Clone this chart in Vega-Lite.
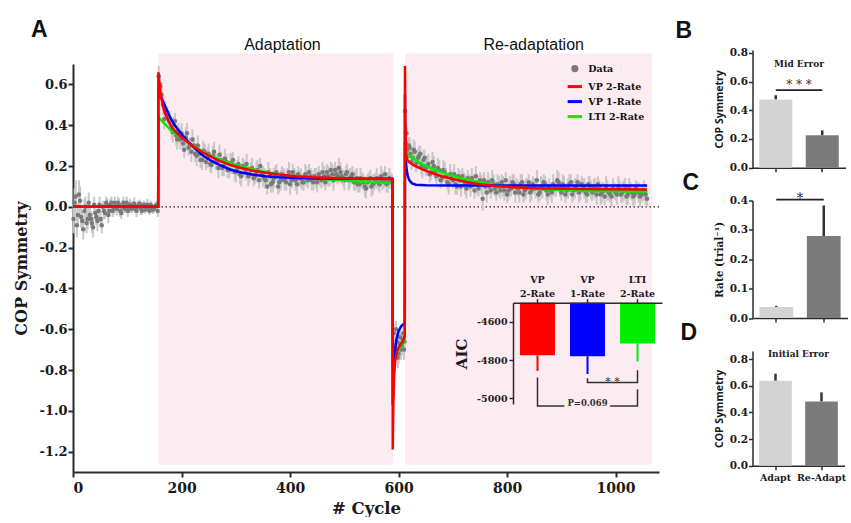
{
  "$schema": "https://vega.github.io/schema/vega-lite/v6.json",
  "background": "white",
  "padding": {"left": 13, "top": 19, "right": 0, "bottom": 0},
  "config": {
    "view": {"stroke": null},
    "locale": {"number": {"decimal": ".", "thousands": ",", "grouping": [3], "currency": ["$", ""], "minus": "-"}},
    "axis": {"grid": false, "labelOverlap": false, "domainColor": "#2b2b2b", "tickColor": "#2b2b2b", "labelColor": "#1a1a1a", "titleColor": "#1a1a1a", "labelFont": "DejaVu Serif", "labelFontWeight": "bold", "titleFont": "DejaVu Serif", "titleFontWeight": "bold"},
    "legend": {"title": null, "orient": "none", "legendX": 492.8, "legendY": -4.4, "labelFont": "DejaVu Serif", "labelFontWeight": "bold", "labelFontSize": 9.5, "labelColor": "#111111", "symbolType": "stroke", "symbolSize": 120, "symbolStrokeWidth": 3, "rowPadding": 0, "labelOffset": 4.5},
    "title": {"font": "Liberation Sans", "fontWeight": "bold", "fontSize": 23, "color": "#111111", "anchor": "start", "frame": "group", "baseline": "alphabetic"}
  },
  "datasets": {
    "pts": [
      {"c":1,"v":-0.06,"e":0.07},{"c":5,"v":0.05,"e":0.08},{"c":9,"v":-0.04,"e":0.06},{"c":13,"v":0.03,"e":0.07},{"c":17,"v":-0.07,"e":0.05},
      {"c":21,"v":-0.02,"e":0.06},{"c":25,"v":-0.08,"e":0.05},{"c":29,"v":0.02,"e":0.05},{"c":33,"v":-0.06,"e":0.04},{"c":37,"v":-0.1,"e":0.05},
      {"c":41,"v":-0.03,"e":0.04},{"c":45,"v":-0.07,"e":0.05},{"c":49,"v":0.01,"e":0.04},{"c":53,"v":-0.09,"e":0.04},{"c":57,"v":-0.02,"e":0.04},
      {"c":61,"v":0.02,"e":0.03},{"c":65,"v":-0.04,"e":0.04},{"c":69,"v":0.01,"e":0.03},{"c":73,"v":-0.02,"e":0.03},{"c":77,"v":0.02,"e":0.03},
      {"c":81,"v":-0.01,"e":0.03},{"c":85,"v":0.01,"e":0.03},{"c":89,"v":-0.03,"e":0.03},{"c":93,"v":0.02,"e":0.03},{"c":97,"v":0.0,"e":0.03},
      {"c":101,"v":-0.02,"e":0.03},{"c":105,"v":0.01,"e":0.03},{"c":109,"v":-0.01,"e":0.02},{"c":113,"v":0.015,"e":0.03},{"c":117,"v":-0.02,"e":0.03},
      {"c":121,"v":0.01,"e":0.02},{"c":125,"v":-0.01,"e":0.03},{"c":129,"v":0.005,"e":0.02},{"c":133,"v":-0.015,"e":0.02},{"c":137,"v":0.01,"e":0.03},
      {"c":141,"v":-0.02,"e":0.02},{"c":145,"v":0.0,"e":0.02},{"c":149,"v":-0.01,"e":0.02},{"c":153,"v":0.005,"e":0.02},{"c":156,"v":-0.02,"e":0.03},
      {"c":3,"v":0.02,"e":0.07},{"c":7,"v":-0.09,"e":0.06},{"c":11,"v":0.06,"e":0.07},{"c":15,"v":-0.05,"e":0.05},{"c":19,"v":-0.11,"e":0.05},
      {"c":23,"v":0.0,"e":0.05},{"c":27,"v":-0.06,"e":0.05},{"c":31,"v":-0.04,"e":0.04},{"c":35,"v":-0.08,"e":0.05},{"c":39,"v":0.01,"e":0.04},
      {"c":43,"v":-0.05,"e":0.04},{"c":47,"v":-0.02,"e":0.04},{"c":51,"v":-0.06,"e":0.04},{"c":55,"v":0.0,"e":0.03},{"c":59,"v":-0.03,"e":0.03},
      {"c":63,"v":0.01,"e":0.03},{"c":67,"v":-0.02,"e":0.03},{"c":71,"v":0.02,"e":0.03},{"c":75,"v":-0.01,"e":0.03},{"c":79,"v":0.0,"e":0.03},
      {"c":83,"v":0.02,"e":0.03},{"c":87,"v":-0.02,"e":0.03},{"c":91,"v":0.0,"e":0.03},{"c":95,"v":-0.01,"e":0.02},{"c":99,"v":0.02,"e":0.03},
      {"c":103,"v":-0.01,"e":0.02},{"c":107,"v":0.0,"e":0.03},{"c":111,"v":0.01,"e":0.02},{"c":115,"v":-0.01,"e":0.02},{"c":119,"v":0.0,"e":0.03},
      {"c":123,"v":0.015,"e":0.02},{"c":127,"v":-0.02,"e":0.02},{"c":131,"v":0.01,"e":0.02},{"c":135,"v":0.0,"e":0.02},{"c":139,"v":-0.01,"e":0.02},
      {"c":143,"v":0.01,"e":0.02},{"c":147,"v":-0.015,"e":0.02},{"c":151,"v":0.0,"e":0.02},{"c":155,"v":0.01,"e":0.02},
      {"c":158,"v":0.64,"e":0.05},{"c":160,"v":0.6,"e":0.05},{"c":163,"v":0.55,"e":0.06},{"c":166,"v":0.5,"e":0.05},{"c":170,"v":0.47,"e":0.05},
      {"c":174,"v":0.45,"e":0.04},{"c":178,"v":0.42,"e":0.05},{"c":182,"v":0.38,"e":0.05},{"c":186,"v":0.4,"e":0.04},{"c":190,"v":0.35,"e":0.05},
      {"c":194,"v":0.37,"e":0.04},{"c":198,"v":0.33,"e":0.05},{"c":203,"v":0.31,"e":0.04},{"c":208,"v":0.34,"e":0.05},{"c":213,"v":0.29,"e":0.04},
      {"c":218,"v":0.27,"e":0.05},{"c":223,"v":0.3,"e":0.04},{"c":228,"v":0.25,"e":0.05},{"c":233,"v":0.26,"e":0.04},{"c":238,"v":0.23,"e":0.05},
      {"c":243,"v":0.27,"e":0.04},{"c":248,"v":0.24,"e":0.05},{"c":253,"v":0.21,"e":0.04},{"c":258,"v":0.25,"e":0.05},{"c":263,"v":0.22,"e":0.04},
      {"c":268,"v":0.19,"e":0.05},{"c":273,"v":0.23,"e":0.04},{"c":278,"v":0.2,"e":0.05},{"c":283,"v":0.22,"e":0.04},{"c":288,"v":0.18,"e":0.04},
      {"c":293,"v":0.21,"e":0.05},{"c":298,"v":0.17,"e":0.04},{"c":303,"v":0.19,"e":0.04},{"c":308,"v":0.16,"e":0.05},{"c":313,"v":0.2,"e":0.04},
      {"c":318,"v":0.17,"e":0.04},{"c":323,"v":0.15,"e":0.05},{"c":328,"v":0.18,"e":0.04},{"c":333,"v":0.14,"e":0.04},{"c":338,"v":0.17,"e":0.05},
      {"c":343,"v":0.13,"e":0.04},{"c":348,"v":0.16,"e":0.04},{"c":353,"v":0.14,"e":0.05},{"c":358,"v":0.1,"e":0.04},{"c":363,"v":0.15,"e":0.04},
      {"c":368,"v":0.12,"e":0.05},{"c":373,"v":0.16,"e":0.04},{"c":378,"v":0.1,"e":0.04},{"c":383,"v":0.13,"e":0.05},{"c":388,"v":0.15,"e":0.04},
      {"c":393,"v":0.12,"e":0.04},{"c":398,"v":0.17,"e":0.05},{"c":403,"v":0.13,"e":0.04},{"c":408,"v":0.15,"e":0.04},{"c":413,"v":0.11,"e":0.05},
      {"c":418,"v":0.14,"e":0.04},{"c":423,"v":0.12,"e":0.04},{"c":428,"v":0.16,"e":0.05},{"c":433,"v":0.13,"e":0.04},{"c":438,"v":0.15,"e":0.04},
      {"c":443,"v":0.12,"e":0.04},{"c":448,"v":0.14,"e":0.05},{"c":453,"v":0.16,"e":0.04},{"c":458,"v":0.13,"e":0.04},{"c":463,"v":0.15,"e":0.05},
      {"c":468,"v":0.17,"e":0.04},{"c":473,"v":0.14,"e":0.04},{"c":478,"v":0.16,"e":0.05},{"c":483,"v":0.18,"e":0.04},{"c":488,"v":0.15,"e":0.04},
      {"c":493,"v":0.17,"e":0.05},{"c":498,"v":0.14,"e":0.04},{"c":503,"v":0.16,"e":0.04},{"c":508,"v":0.13,"e":0.05},{"c":513,"v":0.15,"e":0.04},
      {"c":518,"v":0.12,"e":0.04},{"c":523,"v":0.14,"e":0.05},{"c":528,"v":0.11,"e":0.04},{"c":533,"v":0.13,"e":0.04},{"c":538,"v":0.1,"e":0.05},
      {"c":543,"v":0.12,"e":0.04},{"c":548,"v":0.14,"e":0.04},{"c":553,"v":0.11,"e":0.05},{"c":558,"v":0.13,"e":0.04},{"c":563,"v":0.12,"e":0.04},
      {"c":568,"v":0.15,"e":0.05},{"c":573,"v":0.13,"e":0.04},{"c":578,"v":0.11,"e":0.04},{"c":583,"v":0.14,"e":0.05},{"c":588,"v":0.12,"e":0.04},
      {"c":161,"v":0.59,"e":0.05},{"c":168,"v":0.43,"e":0.05},{"c":176,"v":0.43,"e":0.04},{"c":184,"v":0.365,"e":0.05},{"c":188,"v":0.42,"e":0.04},
      {"c":192,"v":0.33,"e":0.05},{"c":196,"v":0.35,"e":0.04},{"c":200,"v":0.36,"e":0.05},{"c":205,"v":0.28,"e":0.04},{"c":210,"v":0.36,"e":0.05},
      {"c":215,"v":0.3,"e":0.04},{"c":220,"v":0.33,"e":0.05},{"c":225,"v":0.26,"e":0.04},{"c":230,"v":0.3,"e":0.05},{"c":235,"v":0.23,"e":0.04},
      {"c":240,"v":0.275,"e":0.05},{"c":245,"v":0.22,"e":0.04},{"c":250,"v":0.26,"e":0.05},{"c":255,"v":0.205,"e":0.04},{"c":260,"v":0.27,"e":0.05},
      {"c":265,"v":0.22,"e":0.04},{"c":270,"v":0.255,"e":0.05},{"c":275,"v":0.19,"e":0.04},{"c":280,"v":0.235,"e":0.05},{"c":285,"v":0.18,"e":0.04},
      {"c":290,"v":0.215,"e":0.05},{"c":295,"v":0.23,"e":0.04},{"c":300,"v":0.17,"e":0.05},{"c":305,"v":0.21,"e":0.04},{"c":310,"v":0.15,"e":0.05},
      {"c":315,"v":0.19,"e":0.04},{"c":320,"v":0.21,"e":0.05},{"c":325,"v":0.16,"e":0.04},{"c":330,"v":0.19,"e":0.05},{"c":335,"v":0.15,"e":0.04},
      {"c":340,"v":0.18,"e":0.05},{"c":345,"v":0.2,"e":0.04},{"c":350,"v":0.15,"e":0.05},{"c":355,"v":0.13,"e":0.04},{"c":360,"v":0.17,"e":0.05},
      {"c":365,"v":0.11,"e":0.04},{"c":370,"v":0.14,"e":0.05},{"c":375,"v":0.17,"e":0.04},{"c":380,"v":0.12,"e":0.05},{"c":385,"v":0.16,"e":0.04},
      {"c":390,"v":0.13,"e":0.05},{"c":395,"v":0.15,"e":0.04},{"c":400,"v":0.11,"e":0.05},{"c":405,"v":0.17,"e":0.04},{"c":410,"v":0.13,"e":0.05},
      {"c":415,"v":0.16,"e":0.04},{"c":420,"v":0.14,"e":0.05},{"c":425,"v":0.12,"e":0.04},{"c":430,"v":0.15,"e":0.05},{"c":435,"v":0.17,"e":0.04},
      {"c":440,"v":0.13,"e":0.05},{"c":445,"v":0.15,"e":0.04},{"c":450,"v":0.12,"e":0.05},{"c":455,"v":0.14,"e":0.04},{"c":460,"v":0.17,"e":0.05},
      {"c":465,"v":0.12,"e":0.04},{"c":470,"v":0.15,"e":0.05},{"c":475,"v":0.18,"e":0.04},{"c":480,"v":0.13,"e":0.05},{"c":485,"v":0.16,"e":0.04},
      {"c":490,"v":0.19,"e":0.05},{"c":495,"v":0.15,"e":0.04},{"c":500,"v":0.13,"e":0.05},{"c":505,"v":0.17,"e":0.04},{"c":510,"v":0.14,"e":0.05},
      {"c":515,"v":0.16,"e":0.04},{"c":520,"v":0.13,"e":0.05},{"c":525,"v":0.11,"e":0.04},{"c":530,"v":0.14,"e":0.05},{"c":535,"v":0.12,"e":0.04},
      {"c":540,"v":0.09,"e":0.05},{"c":545,"v":0.13,"e":0.04},{"c":550,"v":0.1,"e":0.05},{"c":555,"v":0.12,"e":0.04},{"c":560,"v":0.14,"e":0.05},
      {"c":565,"v":0.11,"e":0.04},{"c":570,"v":0.13,"e":0.05},{"c":575,"v":0.16,"e":0.04},{"c":580,"v":0.12,"e":0.05},{"c":585,"v":0.13,"e":0.04},
      {"c":591,"v":-0.62,"e":0.05},{"c":594,"v":-0.7,"e":0.05},{"c":597,"v":-0.66,"e":0.04},{"c":600,"v":-0.72,"e":0.05},{"c":603,"v":-0.64,"e":0.04},
      {"c":606,"v":-0.68,"e":0.05},{"c":609,"v":-0.62,"e":0.04},{"c":611,"v":-0.66,"e":0.05},
      {"c":592.5,"v":-0.68,"e":0.05},{"c":595.5,"v":-0.6,"e":0.04},{"c":598.5,"v":-0.74,"e":0.05},{"c":601.5,"v":-0.67,"e":0.04},{"c":604.5,"v":-0.7,"e":0.05},
      {"c":607.5,"v":-0.65,"e":0.04},{"c":610,"v":-0.7,"e":0.05},
      {"c":612,"v":0.47,"e":0.06},{"c":613,"v":0.31,"e":0.05},{"c":616,"v":0.28,"e":0.05},{"c":619,"v":0.3,"e":0.04},{"c":622,"v":0.26,"e":0.05},
      {"c":626,"v":0.24,"e":0.04},{"c":630,"v":0.27,"e":0.05},{"c":634,"v":0.22,"e":0.04},{"c":638,"v":0.25,"e":0.05},{"c":642,"v":0.2,"e":0.04},
      {"c":646,"v":0.23,"e":0.05},{"c":650,"v":0.19,"e":0.04},{"c":655,"v":0.21,"e":0.05},{"c":660,"v":0.17,"e":0.04},{"c":665,"v":0.2,"e":0.05},
      {"c":670,"v":0.15,"e":0.04},{"c":675,"v":0.18,"e":0.05},{"c":680,"v":0.14,"e":0.04},{"c":685,"v":0.17,"e":0.05},{"c":690,"v":0.12,"e":0.04},
      {"c":695,"v":0.16,"e":0.05},{"c":700,"v":0.13,"e":0.04},{"c":705,"v":0.11,"e":0.05},{"c":710,"v":0.15,"e":0.04},{"c":715,"v":0.1,"e":0.05},
      {"c":720,"v":0.13,"e":0.04},{"c":725,"v":0.09,"e":0.05},{"c":730,"v":0.12,"e":0.04},{"c":735,"v":0.14,"e":0.05},{"c":740,"v":0.08,"e":0.04},
      {"c":745,"v":0.11,"e":0.05},{"c":750,"v":0.13,"e":0.04},{"c":755,"v":0.04,"e":0.06},{"c":760,"v":0.1,"e":0.04},{"c":765,"v":0.12,"e":0.05},
      {"c":770,"v":0.08,"e":0.04},{"c":775,"v":0.11,"e":0.05},{"c":780,"v":0.07,"e":0.04},{"c":785,"v":0.1,"e":0.05},{"c":790,"v":0.12,"e":0.04},
      {"c":795,"v":0.08,"e":0.05},{"c":800,"v":0.06,"e":0.04},{"c":805,"v":0.1,"e":0.05},{"c":810,"v":0.12,"e":0.04},{"c":815,"v":0.07,"e":0.05},
      {"c":820,"v":0.09,"e":0.04},{"c":825,"v":0.11,"e":0.05},{"c":830,"v":0.06,"e":0.04},{"c":835,"v":0.09,"e":0.05},{"c":840,"v":0.12,"e":0.04},
      {"c":845,"v":0.08,"e":0.05},{"c":850,"v":0.1,"e":0.04},{"c":855,"v":0.13,"e":0.05},{"c":860,"v":0.07,"e":0.04},{"c":865,"v":0.09,"e":0.05},
      {"c":870,"v":0.11,"e":0.04},{"c":875,"v":0.06,"e":0.05},{"c":880,"v":0.08,"e":0.04},{"c":885,"v":0.11,"e":0.05},{"c":890,"v":0.09,"e":0.04},
      {"c":895,"v":0.12,"e":0.05},{"c":900,"v":0.07,"e":0.04},{"c":905,"v":0.1,"e":0.05},{"c":910,"v":0.08,"e":0.04},{"c":915,"v":0.11,"e":0.05},
      {"c":920,"v":0.06,"e":0.04},{"c":925,"v":0.09,"e":0.05},{"c":930,"v":0.12,"e":0.04},{"c":935,"v":0.08,"e":0.05},{"c":940,"v":0.1,"e":0.04},
      {"c":945,"v":0.07,"e":0.05},{"c":950,"v":0.11,"e":0.04},{"c":955,"v":0.08,"e":0.05},{"c":960,"v":0.1,"e":0.04},{"c":965,"v":0.06,"e":0.05},
      {"c":970,"v":0.09,"e":0.04},{"c":975,"v":0.07,"e":0.05},{"c":980,"v":0.05,"e":0.04},{"c":985,"v":0.08,"e":0.05},{"c":990,"v":0.06,"e":0.04},
      {"c":995,"v":0.09,"e":0.05},{"c":1000,"v":0.07,"e":0.04},{"c":1005,"v":0.1,"e":0.05},{"c":1010,"v":0.06,"e":0.04},{"c":1015,"v":0.08,"e":0.05},
      {"c":1020,"v":0.05,"e":0.04},{"c":1025,"v":0.09,"e":0.05},{"c":1030,"v":0.07,"e":0.04},{"c":1035,"v":0.06,"e":0.05},{"c":1040,"v":0.08,"e":0.04},
      {"c":1045,"v":0.05,"e":0.05},{"c":1050,"v":0.07,"e":0.04},{"c":1055,"v":0.06,"e":0.05},{"c":1058,"v":0.04,"e":0.04},
      {"c":614.5,"v":0.36,"e":0.05},{"c":617.5,"v":0.25,"e":0.04},{"c":620.5,"v":0.29,"e":0.05},{"c":624,"v":0.22,"e":0.04},{"c":628,"v":0.28,"e":0.05},
      {"c":632,"v":0.21,"e":0.04},{"c":636,"v":0.24,"e":0.05},{"c":640,"v":0.26,"e":0.04},{"c":644,"v":0.19,"e":0.05},{"c":648,"v":0.24,"e":0.04},
      {"c":652.5,"v":0.2,"e":0.05},{"c":657.5,"v":0.16,"e":0.04},{"c":662.5,"v":0.22,"e":0.05},{"c":667.5,"v":0.17,"e":0.04},{"c":672.5,"v":0.19,"e":0.05},
      {"c":677.5,"v":0.13,"e":0.04},{"c":682.5,"v":0.18,"e":0.05},{"c":687.5,"v":0.15,"e":0.04},{"c":692.5,"v":0.11,"e":0.05},{"c":697.5,"v":0.14,"e":0.04},
      {"c":702.5,"v":0.16,"e":0.05},{"c":707.5,"v":0.1,"e":0.04},{"c":712.5,"v":0.13,"e":0.05},{"c":717.5,"v":0.15,"e":0.04},{"c":722.5,"v":0.11,"e":0.05},
      {"c":727.5,"v":0.14,"e":0.04},{"c":732.5,"v":0.1,"e":0.05},{"c":737.5,"v":0.12,"e":0.04},{"c":742.5,"v":0.15,"e":0.05},{"c":747.5,"v":0.09,"e":0.04},
      {"c":752.5,"v":0.11,"e":0.05},{"c":757.5,"v":0.13,"e":0.04},{"c":762.5,"v":0.07,"e":0.05},{"c":767.5,"v":0.1,"e":0.04},{"c":772.5,"v":0.13,"e":0.05},
      {"c":777.5,"v":0.09,"e":0.04},{"c":782.5,"v":0.11,"e":0.05},{"c":787.5,"v":0.08,"e":0.04},{"c":792.5,"v":0.1,"e":0.05},{"c":797.5,"v":0.13,"e":0.04},
      {"c":802.5,"v":0.08,"e":0.05},{"c":807.5,"v":0.09,"e":0.04},{"c":812.5,"v":0.11,"e":0.05},{"c":817.5,"v":0.1,"e":0.04},{"c":822.5,"v":0.07,"e":0.05},
      {"c":827.5,"v":0.12,"e":0.04},{"c":832.5,"v":0.08,"e":0.05},{"c":837.5,"v":0.1,"e":0.04},{"c":842.5,"v":0.07,"e":0.05},{"c":847.5,"v":0.11,"e":0.04},
      {"c":852.5,"v":0.09,"e":0.05},{"c":857.5,"v":0.06,"e":0.04},{"c":862.5,"v":0.1,"e":0.05},{"c":867.5,"v":0.12,"e":0.04},{"c":872.5,"v":0.08,"e":0.05},
      {"c":877.5,"v":0.1,"e":0.04},{"c":882.5,"v":0.07,"e":0.05},{"c":887.5,"v":0.09,"e":0.04},{"c":892.5,"v":0.13,"e":0.05},{"c":897.5,"v":0.09,"e":0.04},
      {"c":902.5,"v":0.11,"e":0.05},{"c":907.5,"v":0.06,"e":0.04},{"c":912.5,"v":0.09,"e":0.05},{"c":917.5,"v":0.12,"e":0.04},{"c":922.5,"v":0.08,"e":0.05},
      {"c":927.5,"v":0.1,"e":0.04},{"c":932.5,"v":0.07,"e":0.05},{"c":937.5,"v":0.11,"e":0.04},{"c":942.5,"v":0.09,"e":0.05},{"c":947.5,"v":0.06,"e":0.04},
      {"c":952.5,"v":0.1,"e":0.05},{"c":957.5,"v":0.07,"e":0.04},{"c":962.5,"v":0.09,"e":0.05},{"c":967.5,"v":0.11,"e":0.04},{"c":972.5,"v":0.06,"e":0.05},
      {"c":977.5,"v":0.08,"e":0.04},{"c":982.5,"v":0.1,"e":0.05},{"c":987.5,"v":0.07,"e":0.04},{"c":992.5,"v":0.05,"e":0.05},{"c":997.5,"v":0.08,"e":0.04},
      {"c":1002.5,"v":0.06,"e":0.05},{"c":1007.5,"v":0.09,"e":0.04},{"c":1012.5,"v":0.07,"e":0.05},{"c":1017.5,"v":0.1,"e":0.04},{"c":1022.5,"v":0.06,"e":0.05},
      {"c":1027.5,"v":0.08,"e":0.04},{"c":1032.5,"v":0.05,"e":0.05},{"c":1037.5,"v":0.09,"e":0.04},{"c":1042.5,"v":0.07,"e":0.05},{"c":1047.5,"v":0.06,"e":0.04},
      {"c":1052.5,"v":0.08,"e":0.05}
    ],
    "fits": [
      {"m":"LTI 2-Rate","c":0,"v":0},{"m":"LTI 2-Rate","c":157,"v":0},{"m":"LTI 2-Rate","c":157.3,"v":0.44},{"m":"LTI 2-Rate","c":162,"v":0.425},
      {"m":"LTI 2-Rate","c":168,"v":0.41},{"m":"LTI 2-Rate","c":175,"v":0.39},{"m":"LTI 2-Rate","c":183,"v":0.37},{"m":"LTI 2-Rate","c":192,"v":0.35},
      {"m":"LTI 2-Rate","c":202,"v":0.335},{"m":"LTI 2-Rate","c":215,"v":0.31},{"m":"LTI 2-Rate","c":230,"v":0.285},{"m":"LTI 2-Rate","c":245,"v":0.262},
      {"m":"LTI 2-Rate","c":260,"v":0.243},{"m":"LTI 2-Rate","c":280,"v":0.222},{"m":"LTI 2-Rate","c":300,"v":0.205},{"m":"LTI 2-Rate","c":325,"v":0.188},
      {"m":"LTI 2-Rate","c":350,"v":0.173},{"m":"LTI 2-Rate","c":380,"v":0.16},{"m":"LTI 2-Rate","c":410,"v":0.15},{"m":"LTI 2-Rate","c":450,"v":0.139},
      {"m":"LTI 2-Rate","c":500,"v":0.129},{"m":"LTI 2-Rate","c":550,"v":0.121},{"m":"LTI 2-Rate","c":589,"v":0.116},{"m":"LTI 2-Rate","c":589.3,"v":-0.79},
      {"m":"LTI 2-Rate","c":592,"v":-0.75},{"m":"LTI 2-Rate","c":596,"v":-0.72},{"m":"LTI 2-Rate","c":600,"v":-0.7},{"m":"LTI 2-Rate","c":605,"v":-0.68},
      {"m":"LTI 2-Rate","c":611.5,"v":-0.655},{"m":"LTI 2-Rate","c":611.8,"v":0.275},{"m":"LTI 2-Rate","c":618,"v":0.255},{"m":"LTI 2-Rate","c":628,"v":0.235},
      {"m":"LTI 2-Rate","c":640,"v":0.215},{"m":"LTI 2-Rate","c":655,"v":0.195},{"m":"LTI 2-Rate","c":670,"v":0.178},{"m":"LTI 2-Rate","c":690,"v":0.16},
      {"m":"LTI 2-Rate","c":710,"v":0.144},{"m":"LTI 2-Rate","c":735,"v":0.128},{"m":"LTI 2-Rate","c":760,"v":0.115},{"m":"LTI 2-Rate","c":790,"v":0.104},
      {"m":"LTI 2-Rate","c":820,"v":0.095},{"m":"LTI 2-Rate","c":860,"v":0.087},{"m":"LTI 2-Rate","c":900,"v":0.082},{"m":"LTI 2-Rate","c":950,"v":0.078},
      {"m":"LTI 2-Rate","c":1000,"v":0.076},{"m":"LTI 2-Rate","c":1058,"v":0.074},
      {"m":"VP 1-Rate","c":0,"v":0},{"m":"VP 1-Rate","c":157,"v":0},{"m":"VP 1-Rate","c":157.3,"v":0.56},{"m":"VP 1-Rate","c":162,"v":0.54},
      {"m":"VP 1-Rate","c":167,"v":0.51},{"m":"VP 1-Rate","c":172,"v":0.48},{"m":"VP 1-Rate","c":178,"v":0.445},{"m":"VP 1-Rate","c":185,"v":0.41},
      {"m":"VP 1-Rate","c":193,"v":0.38},{"m":"VP 1-Rate","c":202,"v":0.35},{"m":"VP 1-Rate","c":212,"v":0.32},{"m":"VP 1-Rate","c":225,"v":0.285},
      {"m":"VP 1-Rate","c":240,"v":0.25},{"m":"VP 1-Rate","c":255,"v":0.225},{"m":"VP 1-Rate","c":270,"v":0.205},{"m":"VP 1-Rate","c":290,"v":0.183},
      {"m":"VP 1-Rate","c":310,"v":0.168},{"m":"VP 1-Rate","c":330,"v":0.158},{"m":"VP 1-Rate","c":355,"v":0.15},{"m":"VP 1-Rate","c":380,"v":0.145},
      {"m":"VP 1-Rate","c":410,"v":0.141},{"m":"VP 1-Rate","c":450,"v":0.139},{"m":"VP 1-Rate","c":500,"v":0.138},{"m":"VP 1-Rate","c":589,"v":0.138},
      {"m":"VP 1-Rate","c":589.3,"v":-0.97},{"m":"VP 1-Rate","c":591,"v":-0.82},{"m":"VP 1-Rate","c":593,"v":-0.72},{"m":"VP 1-Rate","c":596,"v":-0.65},
      {"m":"VP 1-Rate","c":600,"v":-0.61},{"m":"VP 1-Rate","c":605,"v":-0.585},{"m":"VP 1-Rate","c":611.5,"v":-0.57},{"m":"VP 1-Rate","c":611.8,"v":0.55},
      {"m":"VP 1-Rate","c":612.5,"v":0.3},{"m":"VP 1-Rate","c":613.5,"v":0.22},{"m":"VP 1-Rate","c":615,"v":0.18},{"m":"VP 1-Rate","c":617,"v":0.15},
      {"m":"VP 1-Rate","c":620,"v":0.13},{"m":"VP 1-Rate","c":625,"v":0.115},{"m":"VP 1-Rate","c":632,"v":0.108},{"m":"VP 1-Rate","c":650,"v":0.106},
      {"m":"VP 1-Rate","c":700,"v":0.105},{"m":"VP 1-Rate","c":1058,"v":0.105},
      {"m":"VP 2-Rate","c":0,"v":0},{"m":"VP 2-Rate","c":157,"v":0},{"m":"VP 2-Rate","c":157.3,"v":0.66},{"m":"VP 2-Rate","c":159,"v":0.61},
      {"m":"VP 2-Rate","c":161,"v":0.56},{"m":"VP 2-Rate","c":164,"v":0.52},{"m":"VP 2-Rate","c":167,"v":0.48},{"m":"VP 2-Rate","c":171,"v":0.45},
      {"m":"VP 2-Rate","c":176,"v":0.42},{"m":"VP 2-Rate","c":182,"v":0.39},{"m":"VP 2-Rate","c":190,"v":0.365},{"m":"VP 2-Rate","c":200,"v":0.34},
      {"m":"VP 2-Rate","c":212,"v":0.315},{"m":"VP 2-Rate","c":225,"v":0.29},{"m":"VP 2-Rate","c":240,"v":0.265},{"m":"VP 2-Rate","c":255,"v":0.245},
      {"m":"VP 2-Rate","c":270,"v":0.225},{"m":"VP 2-Rate","c":290,"v":0.205},{"m":"VP 2-Rate","c":310,"v":0.19},{"m":"VP 2-Rate","c":330,"v":0.178},
      {"m":"VP 2-Rate","c":355,"v":0.167},{"m":"VP 2-Rate","c":380,"v":0.158},{"m":"VP 2-Rate","c":410,"v":0.15},{"m":"VP 2-Rate","c":440,"v":0.145},
      {"m":"VP 2-Rate","c":480,"v":0.141},{"m":"VP 2-Rate","c":520,"v":0.139},{"m":"VP 2-Rate","c":560,"v":0.137},{"m":"VP 2-Rate","c":589,"v":0.136},
      {"m":"VP 2-Rate","c":589.3,"v":-1.19},{"m":"VP 2-Rate","c":590.5,"v":-0.95},{"m":"VP 2-Rate","c":592,"v":-0.82},{"m":"VP 2-Rate","c":594,"v":-0.75},
      {"m":"VP 2-Rate","c":597,"v":-0.71},{"m":"VP 2-Rate","c":600,"v":-0.69},{"m":"VP 2-Rate","c":604,"v":-0.675},{"m":"VP 2-Rate","c":608,"v":-0.66},
      {"m":"VP 2-Rate","c":611.5,"v":-0.63},{"m":"VP 2-Rate","c":611.8,"v":0.69},{"m":"VP 2-Rate","c":612.5,"v":0.42},{"m":"VP 2-Rate","c":613.5,"v":0.26},
      {"m":"VP 2-Rate","c":616,"v":0.23},{"m":"VP 2-Rate","c":622,"v":0.215},{"m":"VP 2-Rate","c":630,"v":0.2},{"m":"VP 2-Rate","c":645,"v":0.182},
      {"m":"VP 2-Rate","c":660,"v":0.167},{"m":"VP 2-Rate","c":680,"v":0.15},{"m":"VP 2-Rate","c":700,"v":0.136},{"m":"VP 2-Rate","c":725,"v":0.122},
      {"m":"VP 2-Rate","c":750,"v":0.111},{"m":"VP 2-Rate","c":780,"v":0.102},{"m":"VP 2-Rate","c":810,"v":0.096},{"m":"VP 2-Rate","c":850,"v":0.091},
      {"m":"VP 2-Rate","c":900,"v":0.088},{"m":"VP 2-Rate","c":950,"v":0.087},{"m":"VP 2-Rate","c":1000,"v":0.086},{"m":"VP 2-Rate","c":1058,"v":0.085}
    ]
  },
  "spacing": 15.5,
  "hconcat": [
    {
      "title": {"text": "A", "dx": -42, "offset": -5.6},
      "width": 586,
      "height": 408,
      "resolve": {"scale": {"x": "independent", "y": "independent"}},
      "layer": [
        {
          "layer": [
            {
              "data": {"values": [{"phase": "Adaptation", "c": 157, "c2": 590}, {"phase": "Re-adaptation", "c": 612, "c2": 1067}]},
              "mark": {"type": "rect", "color": "#fcebf1"},
              "encoding": {
                "x": {"field": "c", "type": "quantitative", "title": "# Cycle", "scale": {"domain": [0, 1080], "nice": false, "zero": false},
                      "axis": {"values": [0, 200, 400, 600, 800, 1000], "format": "d", "labelFontSize": 14, "titleFontSize": 16.5, "tickSize": 5, "labelPadding": 4, "titlePadding": 5, "domainWidth": 2, "tickWidth": 2}},
                "x2": {"field": "c2"},
                "y": {"datum": 0.752, "type": "quantitative", "title": "COP Symmetry", "scale": {"domain": [-1.3, 0.7], "nice": false, "zero": false},
                      "axis": {"values": [-1.2, -1.0, -0.8, -0.6, -0.4, -0.2, 0, 0.2, 0.4, 0.6], "format": ".1f", "tickCount": 12, "labelFontSize": 13, "titleFontSize": 16, "tickSize": 5, "labelPadding": 1, "titlePadding": 9, "domainWidth": 2, "tickWidth": 2}},
                "y2": {"datum": -1.264}
              }
            },
            {
              "data": {"values": [{"phase": "Adaptation", "mid": 386}, {"phase": "Re-adaptation", "mid": 849}]},
              "mark": {"type": "text", "font": "Liberation Sans", "fontSize": 16, "color": "#111111", "baseline": "middle"},
              "encoding": {
                "x": {"field": "mid", "type": "quantitative", "title": "# Cycle"},
                "y": {"datum": 0.795, "type": "quantitative", "title": "COP Symmetry"},
                "text": {"field": "phase"}
              }
            },
            {
              "data": {"values": [{}]},
              "mark": {"type": "rule", "strokeDash": [1.5, 2.5], "color": "#222222", "strokeWidth": 1.3},
              "encoding": {"y": {"datum": 0, "type": "quantitative", "title": "COP Symmetry"}}
            },
            {
              "data": {"name": "pts"},
              "mark": {"type": "errorbar", "color": "#c8c8c8", "thickness": 2},
              "encoding": {
                "x": {"field": "c", "type": "quantitative", "title": "# Cycle"},
                "y": {"field": "v", "type": "quantitative", "title": "COP Symmetry"},
                "yError": {"field": "e"}
              }
            },
            {
              "data": {"name": "pts"},
              "mark": {"type": "circle", "size": 20, "opacity": 1},
              "encoding": {
                "x": {"field": "c", "type": "quantitative", "title": "# Cycle"},
                "y": {"field": "v", "type": "quantitative", "title": "COP Symmetry"},
                "color": {"datum": "Data", "type": "nominal",
                  "scale": {"domain": ["Data", "VP 2-Rate", "VP 1-Rate", "LTI 2-Rate"], "range": ["#7a7a7a", "#ff0000", "#0000ff", "#00ee00"]},
                  "legend": {"title": null, "rowPadding": 0, "labelOffset": 4.5, "symbolSize": 120, "labelFontSize": 9.5, "encode": {"symbols": {"update": {
                      "shape": {"signal": "datum.value === 'Data' ? 'circle' : 'stroke'"},
                      "size": {"signal": "datum.value === 'Data' ? 18 : 205"},
                      "fill": {"signal": "datum.value === 'Data' ? '#7a7a7a' : 'transparent'"},
                      "stroke": {"signal": "datum.value === 'Data' ? 'transparent' : datum.value === 'VP 2-Rate' ? '#ff0000' : datum.value === 'VP 1-Rate' ? '#0000ff' : '#00ee00'"},
                      "strokeWidth": {"value": 3},
                      "opacity": {"value": 1}
                    }}}}
                }
              }
            },
            {
              "data": {"name": "fits"},
              "transform": [{"filter": "datum.m === 'LTI 2-Rate'"}],
              "mark": {"type": "line", "strokeWidth": 2.5},
              "encoding": {
                "x": {"field": "c", "type": "quantitative", "title": "# Cycle"},
                "y": {"field": "v", "type": "quantitative", "title": "COP Symmetry"},
                "color": {"field": "m", "type": "nominal", "title": null,
                  "legend": {"title": null, "rowPadding": 0, "labelOffset": 4.5, "symbolSize": 120, "labelFontSize": 9.5, "encode": {"symbols": {"update": {
                      "shape": {"signal": "datum.value === 'Data' ? 'circle' : 'stroke'"},
                      "size": {"signal": "datum.value === 'Data' ? 18 : 205"},
                      "fill": {"signal": "datum.value === 'Data' ? '#7a7a7a' : 'transparent'"},
                      "stroke": {"signal": "datum.value === 'Data' ? 'transparent' : datum.value === 'VP 2-Rate' ? '#ff0000' : datum.value === 'VP 1-Rate' ? '#0000ff' : '#00ee00'"},
                      "strokeWidth": {"value": 3},
                      "opacity": {"value": 1}
                    }}}}}
              }
            },
            {
              "data": {"name": "fits"},
              "transform": [{"filter": "datum.m === 'VP 1-Rate'"}],
              "mark": {"type": "line", "strokeWidth": 2.5},
              "encoding": {
                "x": {"field": "c", "type": "quantitative", "title": "# Cycle"},
                "y": {"field": "v", "type": "quantitative", "title": "COP Symmetry"},
                "color": {"field": "m", "type": "nominal", "title": null}
              }
            },
            {
              "data": {"name": "fits"},
              "transform": [{"filter": "datum.m === 'VP 2-Rate'"}],
              "mark": {"type": "line", "strokeWidth": 2.5},
              "encoding": {
                "x": {"field": "c", "type": "quantitative", "title": "# Cycle"},
                "y": {"field": "v", "type": "quantitative", "title": "COP Symmetry"},
                "color": {"field": "m", "type": "nominal", "title": null}
              }
            }
          ]
        },
        {
          "data": {"values": [{"m": "VP 2-Rate", "aic": -4775, "lo": -4857}, {"m": "VP 1-Rate", "aic": -4780, "lo": -4873}, {"m": "LTI 2-Rate", "aic": -4713, "lo": -4807}]},
          "layer": [
            {
              "mark": {"type": "rule", "strokeWidth": 2},
              "encoding": {
                "x": {"field": "m", "type": "nominal", "sort": null, "title": null,
                      "scale": {"domain": ["VP 2-Rate", "VP 1-Rate", "LTI 2-Rate"], "range": [440, 589], "paddingInner": 0.3, "paddingOuter": 0.14},
                      "axis": {"orient": "top", "offset": -238.7, "labelExpr": "split(datum.label, ' ')", "labelAngle": 0, "labelBaseline": "bottom", "labelFontSize": 9.5, "labelLineHeight": 13.5, "tickSize": 4, "labelPadding": 14, "domainWidth": 1.5, "tickWidth": 1.5, "zindex": 1}},
                "y": {"field": "aic", "type": "quantitative", "title": "AIC",
                      "scale": {"domain": [-5030, -4500], "range": [340, 238.7], "nice": false, "zero": false},
                      "axis": {"orient": "left", "offset": -440, "values": [-4600, -4800, -5000], "tickCount": 5, "format": "d", "labelFontSize": 9.5, "titleFontSize": 15, "tickSize": 4, "labelPadding": 2, "titlePadding": 7, "domainWidth": 1.5, "tickWidth": 1.5, "zindex": 1}},
                "y2": {"field": "lo"},
                "color": {"field": "m", "type": "nominal", "legend": null}
              }
            },
            {
              "mark": {"type": "bar"},
              "encoding": {
                "x": {"field": "m", "type": "nominal", "sort": null, "title": null},
                "y": {"field": "aic", "type": "quantitative", "title": "AIC"},
                "y2": {"datum": -4500},
                "color": {"field": "m", "type": "nominal", "legend": null}
              }
            },
            {
              "data": {"values": [
                {"b": "s1", "k": 1, "m": "VP 1-Rate", "y": -4895}, {"b": "s1", "k": 2, "m": "VP 1-Rate", "y": -4918},
                {"b": "s1", "k": 3, "m": "LTI 2-Rate", "y": -4918}, {"b": "s1", "k": 4, "m": "LTI 2-Rate", "y": -4854},
                {"b": "s2", "k": 1, "m": "VP 2-Rate", "y": -4892}, {"b": "s2", "k": 2, "m": "VP 2-Rate", "y": -5040},
                {"b": "s2", "k": 3, "m": "LTI 2-Rate", "y": -5040}, {"b": "s2", "k": 4, "m": "LTI 2-Rate", "y": -4953}
              ]},
              "mark": {"type": "line", "color": "#333333", "strokeWidth": 1.5},
              "encoding": {
                "x": {"field": "m", "type": "nominal", "sort": null, "title": null},
                "y": {"field": "y", "type": "quantitative", "title": "AIC"},
                "detail": {"field": "b"},
                "order": {"field": "k"}
              }
            },
            {
              "data": {"values": [{}]},
              "mark": {"type": "text", "text": "* *", "font": "DejaVu Serif", "fontSize": 11, "dx": 25, "baseline": "alphabetic", "color": "#333333"},
              "encoding": {"x": {"datum": "VP 1-Rate", "title": null}, "y": {"datum": -4929, "type": "quantitative", "title": "AIC"}}
            },
            {
              "data": {"values": [{}]},
              "mark": {"type": "text", "text": "P=0.069", "font": "DejaVu Serif", "fontWeight": "bold", "fontSize": 8.5, "baseline": "middle", "fill": "#fcebf1", "stroke": "#fcebf1", "strokeWidth": 7},
              "encoding": {"x": {"datum": "VP 1-Rate", "title": null}, "y": {"datum": -5026, "type": "quantitative", "title": "AIC"}}
            },
            {
              "data": {"values": [{}]},
              "mark": {"type": "text", "text": "P=0.069", "font": "DejaVu Serif", "fontWeight": "bold", "fontSize": 8.5, "baseline": "middle", "fill": "#333333"},
              "encoding": {"x": {"datum": "VP 1-Rate", "title": null}, "y": {"datum": -5026, "type": "quantitative", "title": "AIC"}}
            }
          ]
        }
      ]
    },
    {
      "spacing": -10.5,
      "vconcat": [
        {
          "title": {"text": "B", "dx": -77, "offset": 4.4},
          "width": 93,
          "height": 103.7,
          "data": {"values": [{"g": "Adapt", "v": 0.475, "hi": 0.505}, {"g": "Re-Adapt", "v": 0.226, "hi": 0.26}]},
          "layer": [
            {
              "mark": {"type": "rule", "strokeWidth": 2.5, "color": "#333333"},
              "encoding": {
                "x": {"field": "g", "type": "nominal", "sort": null, "title": null, "scale": {"paddingInner": 0.29, "paddingOuter": 0.145}, "axis": {"labels": false, "tickSize": 4, "domainWidth": 1.5, "tickWidth": 1.5}},
                "y": {"field": "v", "type": "quantitative", "title": "COP Symmetry", "scale": {"domain": [0, 0.82], "nice": false, "range": [103.7, -14]}, "axis": {"titleFont": "Open Sans", "titleFontSize": 10.5, "values": [0, 0.2, 0.4, 0.6, 0.8], "tickCount": 10, "format": ".1f", "labelOverlap": false, "labelFontSize": 10.5, "tickSize": 4, "labelPadding": 1, "titlePadding": 5, "domainWidth": 1.5, "tickWidth": 1.5}},
                "y2": {"field": "hi"}
              }
            },
            {
              "mark": {"type": "bar"},
              "encoding": {
                "x": {"field": "g", "type": "nominal", "sort": null, "title": null},
                "y": {"field": "v", "type": "quantitative", "title": "COP Symmetry"},
                "color": {"condition": {"test": "datum.g === 'Adapt'", "value": "#d3d3d3"}, "value": "#7b7b7b"}
              }
            },
            {
              "data": {"values": [{"g": "Adapt", "s": 0.54}, {"g": "Re-Adapt", "s": 0.54}]},
              "mark": {"type": "line", "color": "#222222", "strokeWidth": 1.8},
              "encoding": {"x": {"field": "g", "type": "nominal", "sort": null, "title": null}, "y": {"field": "s", "type": "quantitative", "title": "COP Symmetry"}}
            },
            {
              "data": {"values": [{}]},
              "mark": {"type": "text", "text": "* * *", "font": "DejaVu Serif", "fontSize": 12, "baseline": "alphabetic", "color": "#333333"},
              "encoding": {"y": {"datum": 0.55, "type": "quantitative", "title": "COP Symmetry"}}
            },
            {
              "data": {"values": [{}]},
              "mark": {"type": "text", "text": "Mid Error", "font": "DejaVu Serif", "fontWeight": "bold", "fontSize": 9, "baseline": "middle", "color": "#222222"},
              "encoding": {"y": {"datum": 0.72, "type": "quantitative", "title": "COP Symmetry"}}
            }
          ]
        },
        {
          "title": {"text": "C", "dx": -70, "offset": -3},
          "width": 95,
          "height": 117.6,
          "data": {"values": [{"g": "Adapt", "v": 0.038, "hi": 0.042}, {"g": "Re-Adapt", "v": 0.279, "hi": 0.383}]},
          "layer": [
            {
              "mark": {"type": "rule", "strokeWidth": 2.5, "color": "#333333"},
              "encoding": {
                "x": {"field": "g", "type": "nominal", "sort": null, "title": null, "scale": {"paddingInner": 0.29, "paddingOuter": 0.145}, "axis": {"labels": false, "tickSize": 4, "minExtent": 14, "domainWidth": 1.5, "tickWidth": 1.5}},
                "y": {"field": "v", "type": "quantitative", "title": "Rate (trial⁻¹)", "scale": {"domain": [0, 0.4], "nice": false}, "axis": {"titleFontSize": 10.5, "values": [0, 0.1, 0.2, 0.3, 0.4], "tickCount": 10, "format": ".1f", "labelOverlap": false, "labelFontSize": 10.5, "tickSize": 4, "labelPadding": 1, "titlePadding": 5, "domainWidth": 1.5, "tickWidth": 1.5}},
                "y2": {"field": "hi"}
              }
            },
            {
              "mark": {"type": "bar"},
              "encoding": {
                "x": {"field": "g", "type": "nominal", "sort": null, "title": null},
                "y": {"field": "v", "type": "quantitative", "title": "Rate (trial⁻¹)"},
                "color": {"condition": {"test": "datum.g === 'Adapt'", "value": "#d3d3d3"}, "value": "#7b7b7b"}
              }
            },
            {
              "data": {"values": [{"g": "Adapt", "s": 0.403}, {"g": "Re-Adapt", "s": 0.403}]},
              "mark": {"type": "line", "color": "#222222", "strokeWidth": 1.8},
              "encoding": {"x": {"field": "g", "type": "nominal", "sort": null, "title": null}, "y": {"field": "s", "type": "quantitative", "title": "Rate (trial⁻¹)"}}
            },
            {
              "data": {"values": [{}]},
              "mark": {"type": "text", "text": "*", "font": "DejaVu Serif", "fontSize": 14, "baseline": "alphabetic", "color": "#333333"},
              "encoding": {"y": {"datum": 0.392, "type": "quantitative", "title": "Rate (trial⁻¹)"}}
            }
          ]
        },
        {
          "title": {"text": "D", "dx": -72, "offset": 4.4},
          "width": 92,
          "height": 114.8,
          "data": {"values": [{"g": "Adapt", "v": 0.637, "hi": 0.69}, {"g": "Re-Adapt", "v": 0.482, "hi": 0.55}]},
          "layer": [
            {
              "mark": {"type": "rule", "strokeWidth": 2.5, "color": "#333333"},
              "encoding": {
                "x": {"field": "g", "type": "nominal", "sort": null, "title": null, "scale": {"paddingInner": 0.29, "paddingOuter": 0.145}, "axis": {"labelAngle": 0, "labelFontSize": 9.5, "tickSize": 4, "labelPadding": 3, "domainWidth": 1.5, "tickWidth": 1.5}},
                "y": {"field": "v", "type": "quantitative", "title": "COP Symmetry", "scale": {"domain": [0, 0.86], "nice": false}, "axis": {"titleFont": "Open Sans", "titleFontSize": 10.5, "values": [0, 0.2, 0.4, 0.6, 0.8], "tickCount": 10, "format": ".1f", "labelOverlap": false, "labelFontSize": 10.5, "tickSize": 4, "labelPadding": 1, "titlePadding": 5, "domainWidth": 1.5, "tickWidth": 1.5}},
                "y2": {"field": "hi"}
              }
            },
            {
              "mark": {"type": "bar"},
              "encoding": {
                "x": {"field": "g", "type": "nominal", "sort": null, "title": null},
                "y": {"field": "v", "type": "quantitative", "title": "COP Symmetry"},
                "color": {"condition": {"test": "datum.g === 'Adapt'", "value": "#d3d3d3"}, "value": "#7b7b7b"}
              }
            },
            {
              "data": {"values": [{}]},
              "mark": {"type": "text", "text": "Initial Error", "font": "DejaVu Serif", "fontWeight": "bold", "fontSize": 9, "baseline": "middle", "color": "#222222"},
              "encoding": {"y": {"datum": 0.84, "type": "quantitative", "title": "COP Symmetry"}}
            }
          ]
        }
      ]
    }
  ]
}
